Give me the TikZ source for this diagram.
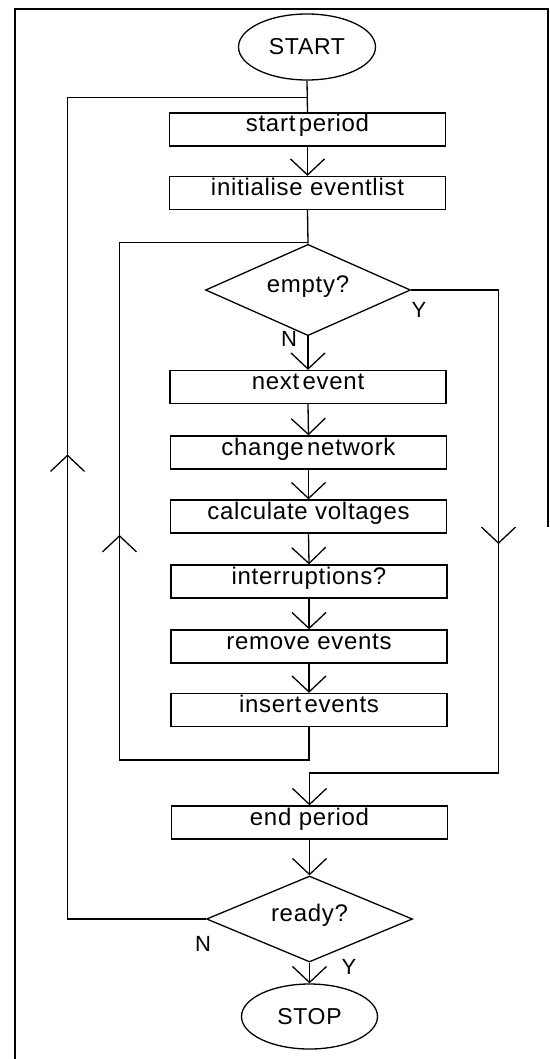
\documentclass[tikz,border=0pt]{standalone}
\usepackage{fontspec}
\setmainfont{Liberation Sans}[LetterSpace=3]
\usetikzlibrary{shapes.geometric,arrows.meta}
\newcommand\tightgap{\hspace{0.14em}}
\begin{document}
\begin{tikzpicture}[x=1pt,y=-1pt,line width=1.3pt,
  every node/.style={font=\fontsize{24}{28}\selectfont},
  proc/.style={draw,rectangle,minimum width=276pt,minimum height=33pt,
    inner sep=0pt,text height=0.7em,text depth=0.2em},
  term/.style={draw,ellipse,minimum width=137pt,minimum height=66pt,
    inner sep=0pt,font=\fontsize{23}{27}\selectfont},
  test/.style={draw,diamond,minimum width=205pt,minimum height=64pt,
    inner sep=0pt,text height=0.7em,text depth=0.2em},
  lbl/.style={inner sep=0pt,font=\fontsize{22}{26}\selectfont},
  flow/.style={-{Straight Barb[length=16pt,width=34pt]}}]
\useasboundingbox (0,0) rectangle (549,1059);

% outer frame
\draw (15,1059) -- (15,9) -- (548,9) -- (548,527);

% main column
\node[term] (start) at (307,47) {START};
\node[proc] (sp) at (307.5,129.5) {start\tightgap period};
\node[proc] (ie) at (307.5,193) {initialise eventlist};
\node[test] (empty) at (308,290) {empty?};
\node[proc] (ne) at (308,387) {next\tightgap event};
\node[proc] (cn) at (308.5,452.5) {change\tightgap network};
\node[proc] (cv) at (308.5,516.5) {calculate voltages};
\node[proc] (ir) at (309,581.5) {interruptions?};
\node[proc] (re) at (309,646.5) {remove events};
\node[proc] (is) at (309,710) {insert\tightgap events};
\node[proc] (ep) at (309.5,822.5) {end period};
\node[test,minimum width=206pt] (ready) at (309.5,919) {ready?};
\node[term,minimum width=136pt,minimum height=65pt] (stop) at (309.5,1016.5) {STOP};

% branch labels
\node[lbl] (y1) at (419,310) {Y};
\node[lbl] (n1) at (289,338.5) {N};
\node[lbl] (n2) at (203,943.5) {N};
\node[lbl] (y2) at (349,966.5) {Y};

% joints of the loops
\coordinate (otop) at (307.5,97.7);
\coordinate (itop) at (307.5,242.7);
\coordinate (oarr) at (67.5,454.5);
\coordinate (iarr) at (119.5,535);
\coordinate (ibot) at (309,760);
\coordinate (yarr) at (498.5,544);
\coordinate (ybot) at (309.5,773);

% straight flow
\draw (start.south) -- (sp.north);
\draw[flow] (sp.south) -- (ie.north);
\draw (ie.south) -- (empty.north);
\draw[flow] (empty.south) -- (ne.north);
\draw[flow] (ne.south) -- (cn.north);
\draw[flow] (cn.south) -- (cv.north);
\draw[flow] (cv.south) -- (ir.north);
\draw[flow] (ir.south) -- (re.north);
\draw[flow] (re.south) -- (is.north);
\draw[flow] (ep.south) -- (ready.north);
\draw[flow] (ready.south) -- (stop.north);

% inner loop: back to the test on the event list
\draw[flow] (is.south) -- (ibot) -| (iarr);
\draw (iarr) |- (itop);

% exit of the inner loop
\draw[flow] (empty.east) -| (yarr);
\draw[flow] (yarr) |- (ybot) -- (ep.north);

% outer loop: next period
\draw[flow] (ready.west) -| (oarr);
\draw (oarr) |- (otop);
\end{tikzpicture}
\end{document}
